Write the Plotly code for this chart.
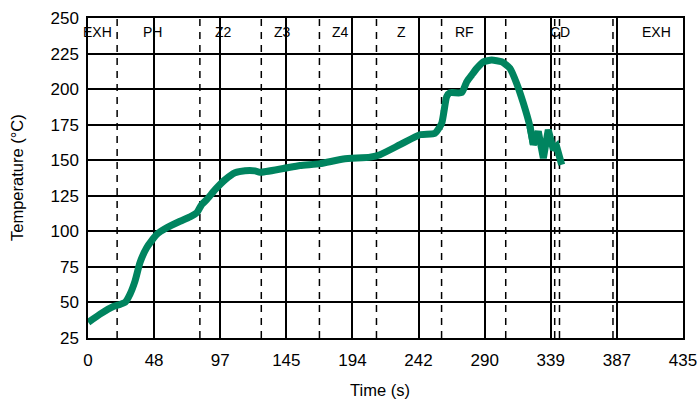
import plotly.graph_objects as go

# Temperature profile (time in s, temperature in °C)
time_s = [0.2, 8.8, 18.5, 23.4, 27.1, 30.7, 34.4, 38.0, 42.9, 50.2, 57.5, 67.3, 74.6, 79.5,
          83.1, 86.8, 92.9, 100.2, 107.5, 114.8, 122.1, 125.7, 142.8, 155.0, 169.7, 186.7,
          206.2, 213.5, 228.1, 242.7, 253.7, 258.6, 262.2, 264.7, 273.2, 276.9, 280.5, 284.2,
          289.0, 295.1, 302.5, 308.5, 313.4, 318.3, 323.1, 325.6, 329.2, 332.9, 336.5, 340.2,
          342.6, 346.3]
temp_c = [36, 41.8, 47.2, 48.6, 50, 55.8, 65.1, 78, 88.5, 97.8, 102.5, 107.1, 110.2, 113,
          118.8, 122.3, 129.3, 136.3, 141.2, 142.6, 142.5, 141.5, 144.2, 146.3, 147.6, 150.8,
          152.2, 153.9, 160.9, 167.9, 169, 176, 194.7, 197.5, 197.5, 205.2, 209.9, 214.6,
          219.2, 220.4, 219.2, 214.6, 204, 190, 173.7, 160.9, 170.2, 151.5, 171.4, 157.4,
          159.7, 146.8]
SMOOTH_END = 46  # points before this index are smooth; the cooling zig-zag is drawn straight

# Zone boundaries (dashed lines) and zone labels
zone_bounds = [21.3, 81.8, 126.7, 169.2, 210.9, 258.5, 305.4, 341.2, 344.7, 383.8]
zone_names = ["EXH", "PH", "Z2", "Z3", "Z4", "Z", "RF", "CD", "EXH"]
zone_label_x = [6.6, 46.8, 98.7, 142.0, 184.6, 229.0, 275.0, 345.0, 415.8]
zone_label_y = 240

x_tickvals = [0, 48.33, 96.67, 145, 193.33, 241.67, 290, 338.33, 386.67, 435]
x_ticktext = ["0", "48", "97", "145", "194", "242", "290", "339", "387", "435"]
y_tickvals = [25, 50, 75, 100, 125, 150, 175, 200, 225, 250]

FONT = "Liberation Sans, Arial, Helvetica, sans-serif"
GREEN = "#00845f"

fig = go.Figure()
fig.add_trace(go.Scatter(
    x=time_s[:SMOOTH_END], y=temp_c[:SMOOTH_END], mode="lines",
    line=dict(color=GREEN, width=7, shape="spline", smoothing=0.5),
    hoverinfo="skip", showlegend=False,
))
fig.add_trace(go.Scatter(
    x=time_s[SMOOTH_END - 2:], y=temp_c[SMOOTH_END - 2:], mode="lines",
    line=dict(color=GREEN, width=7),
    hoverinfo="skip", showlegend=False,
))

for xb in zone_bounds:
    fig.add_shape(type="line", xref="x", yref="paper", x0=xb, x1=xb, y0=0, y1=1,
                  line=dict(color="black", width=1.5, dash="7px,6px"), layer="below")

for name, xl in zip(zone_names, zone_label_x):
    fig.add_annotation(x=xl, y=zone_label_y, xref="x", yref="y", text=name,
                       showarrow=False, font=dict(size=14, color="black", family=FONT))

# axis titles as annotations for exact placement
fig.add_annotation(x=0.491, y=-0.161, xref="paper", yref="paper", text="Time (s)",
                   xanchor="center", yanchor="middle",
                   showarrow=False, font=dict(size=16.5, color="black", family=FONT))
fig.add_annotation(x=-0.1193, y=0.5, xref="paper", yref="paper", text="Temperature (°C)",
                   xanchor="center", yanchor="middle",
                   textangle=-90, showarrow=False,
                   font=dict(size=16.5, color="black", family=FONT))

fig.update_xaxes(
    range=[0, 435], tickvals=x_tickvals, ticktext=x_ticktext, automargin=False,
    ticklabeloverflow="allow",
    showgrid=True, gridcolor="black", gridwidth=1.5,
    showline=True, linecolor="black", linewidth=1.5, mirror=True,
    ticks="outside", ticklen=6, tickcolor="rgba(0,0,0,0)",
    zeroline=False, tickfont=dict(size=17, color="black", family=FONT),
)
fig.update_yaxes(
    range=[25, 250], tickvals=y_tickvals, automargin=False,
    ticklabeloverflow="allow",
    showgrid=True, gridcolor="black", gridwidth=1.5,
    showline=True, linecolor="black", linewidth=1.5, mirror=True,
    ticks="outside", ticklen=4, tickcolor="rgba(0,0,0,0)",
    zeroline=False, tickfont=dict(size=17, color="black", family=FONT),
)
fig.update_layout(
    width=697, height=400,
    margin=dict(l=88, r=14, t=17.7, b=61.7),
    plot_bgcolor="white", paper_bgcolor="white",
    font=dict(family=FONT, color="black"),
    hovermode=False,
)
# remove the browser's default 8px page margin so the figure fills the window exactly
fig.write_html("out.html", config={"displayModeBar": False},
               post_script="document.body.style.margin='0';")
